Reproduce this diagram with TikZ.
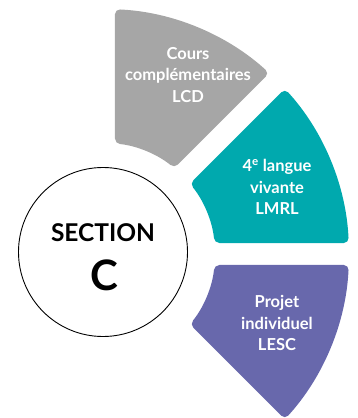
\documentclass[tikz,border=0pt]{standalone}
\usepackage{fontspec}
\setmainfont{Lato}
\definecolor{segGray}{HTML}{A6A6A6}
\definecolor{segTeal}{HTML}{00A9AE}
\definecolor{segPurple}{HTML}{6868AC}

\begin{document}
\begin{tikzpicture}[x=1pt, y=1pt,
	seglabel/.style={align=center, text=white, font=\bfseries\fontsize{16.5}{21.5}\selectfont}]
		\def\ri{111};
		\def\ro{245};
		\def\g{11};
		\pgfmathsetmacro{\di}{asin(\g/\ri)}
		\pgfmathsetmacro{\do}{asin(\g/\ro)}
		
		\useasboundingbox (-104,-164) rectangle (253,254);
		\coordinate (O) at (0,0);
		\coordinate (mid) at (-1,2);
		
		% ring segments
		\foreach \a/\col in {45/segGray, 0/segTeal, -45/segPurple}{
			\fill[\col, rounded corners=5pt] ({\a+\do}:\ro) arc[start angle={\a+\do}, end angle={\a+45-\do}, radius=\ro]
				-- ({\a+45-\di}:\ri) arc[start angle={\a+45-\di}, end angle={\a+\di}, radius=\ri] -- cycle;
		}
		
		\draw[line width=0.9pt] (mid) circle (84.5);
		
		\node[font=\bfseries\fontsize{24.5}{24.5}\selectfont] (sec) at (-1,21) {SECTION};
		\node[font=\bfseries\fontsize{42}{42}\selectfont] (secC) at (0,-21) {C};
		
		\node[seglabel] (lcd) at (84,179) {Cours\\complémentaires\\LCD};
		\node[seglabel] (lmrl) at (173,67) {4\textsuperscript{e} langue\\vivante\\LMRL};
		\node[seglabel] (lesc) at (173,-69) {Projet\\individuel\\LESC};
	\end{tikzpicture}
\end{document}
